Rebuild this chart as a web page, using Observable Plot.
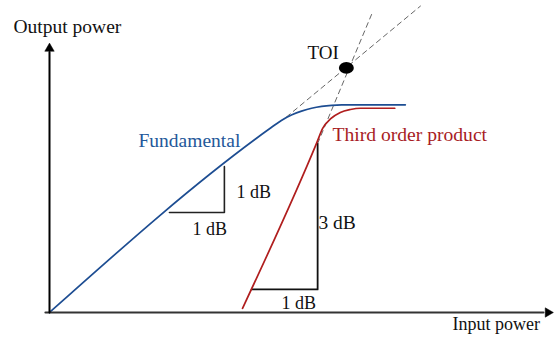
<!DOCTYPE html>
<html>
<head>
<meta charset="utf-8">
<script src="https://cdn.jsdelivr.net/npm/d3@7"></script>
<script src="https://cdn.jsdelivr.net/npm/@observablehq/plot@0.6"></script>
<style>
  html, body { margin: 0; padding: 0; background: #fff; }
  svg { display: block; }
</style>
</head>
<body>
<script>
// Input power (x) and output power (y) in dB, arbitrary origin
const fundX = [0, 44, 46, 48, 50, 52, 54, 56, 58, 70.6];
const fundY = [0, 44, 45.7, 47.0, 47.9, 48.6, 49.05, 49.3, 49.4, 49.4];

const thirdX = [38.3, 53.0, 54.2, 55.8, 57.7, 59.7, 61.7, 68.5];
const thirdY = [1, 40.3, 43.8, 46.1, 47.6, 48.3, 48.6, 48.6];

// dashed extrapolations
const fundExtX = [47, 73.6];
const fundExtY = [46.5, 72.9];
const thirdExtX = [53.2, 63.9];
const thirdExtY = [40.2, 70.9];

// third order intercept point
const toi = [{x: 58.9, y: 58.2}];

// slope triangles
const fundTriX = [23.8, 34.7, 34.7];
const fundTriY = [23.8, 23.8, 34.7];
const thirdTriX = [40.1, 53.2, 53.2];
const thirdTriY = [5.5, 5.5, 40.2];

// axes
const yAxisX = [0, 0];
const yAxisY = [0, 62];
const xAxisX = [-0.8, 98];
const xAxisY = [0, 0];
const arrowHeads = [
  {x: 0, y: 62.8, rotate: 0},
  {x: 98.9, y: 0, rotate: 90}
];

// labels
const labelText = ["Output power", "Input power", "Fundamental", "Third order product", "TOI", "1 dB", "1 dB", "3 dB", "1 dB"];
const labelX = [-7.14, 79.96, 17.66, 56.15, 51.19, 37.10, 28.37, 53.37, 46.03];
const labelY = [66.6, -4.28, 39.26, 40.69, 60.43, 27.36, 18.32, 19.75, 0.83];
const labelColor = ["#111", "#111", "#24589a", "#a81c24", "#111", "#111", "#111", "#111", "#111"];
const labelSize = [19.5, 18, 19.5, 19.6, 19, 18, 18, 19.5, 18];

const zip = (xs, ys) => xs.map((x, i) => ({x, y: ys[i]}));
const labels = labelText.map((t, i) => ({text: t, x: labelX[i], y: labelY[i], color: labelColor[i], size: labelSize[i]}));

const chart = Plot.plot({
  width: 554,
  height: 345,
  marginLeft: 49,
  marginRight: 1,
  marginTop: 43,
  marginBottom: 33,
  x: {domain: [0, 100], axis: null},
  y: {domain: [0, 64], axis: null},
  color: {type: "identity"},
  style: {fontFamily: "'Liberation Serif', 'Times New Roman', serif", background: "#fff", overflow: "visible"},
  marks: [
    Plot.line(zip(fundExtX, fundExtY), {x: "x", y: "y", stroke: "#666", strokeWidth: 1, strokeDasharray: "5,4"}),
    Plot.line(zip(thirdExtX, thirdExtY), {x: "x", y: "y", stroke: "#666", strokeWidth: 1, strokeDasharray: "5,4"}),
    Plot.line(zip(fundTriX, fundTriY), {x: "x", y: "y", stroke: "#222", strokeWidth: 1.6}),
    Plot.line(zip(thirdTriX, thirdTriY), {x: "x", y: "y", stroke: "#111", strokeWidth: 1.8}),
    Plot.line(zip(fundX, fundY), {x: "x", y: "y", stroke: "#1d4d92", strokeWidth: 1.7, curve: "monotone-x"}),
    Plot.line(zip(thirdX, thirdY), {x: "x", y: "y", stroke: "#b01e1e", strokeWidth: 1.7, curve: "monotone-x"}),
    Plot.line(zip(xAxisX, xAxisY), {x: "x", y: "y", stroke: "#333", strokeWidth: 2.2}),
    Plot.line(zip(yAxisX, yAxisY), {x: "x", y: "y", stroke: "#000", strokeWidth: 2}),
    Plot.dot(arrowHeads, {x: "x", y: "y", symbol: "triangle", r: 3.5, fill: "#000", stroke: "#000", strokeWidth: 0.5, rotate: "rotate"}),
    Plot.dot(toi, {x: "x", y: "y", r: 6.5, fill: "#000"}),
    Plot.text(labels, {x: "x", y: "y", text: "text", fill: "color", fontSize: d => d.size, textAnchor: "start", lineAnchor: "bottom"})
  ]
});

// make the TOI dot slightly elliptical like the reference
chart.querySelectorAll("circle").forEach(c => {
  const cx = +c.getAttribute("cx"), cy = +c.getAttribute("cy"), r = +c.getAttribute("r");
  const e = document.createElementNS("http://www.w3.org/2000/svg", "ellipse");
  e.setAttribute("cx", cx); e.setAttribute("cy", cy);
  e.setAttribute("rx", r * 1.15); e.setAttribute("ry", r * 0.92);
  e.setAttribute("fill", c.getAttribute("fill") || "#000");
  c.replaceWith(e);
});

document.body.appendChild(chart);
</script>
</body>
</html>
